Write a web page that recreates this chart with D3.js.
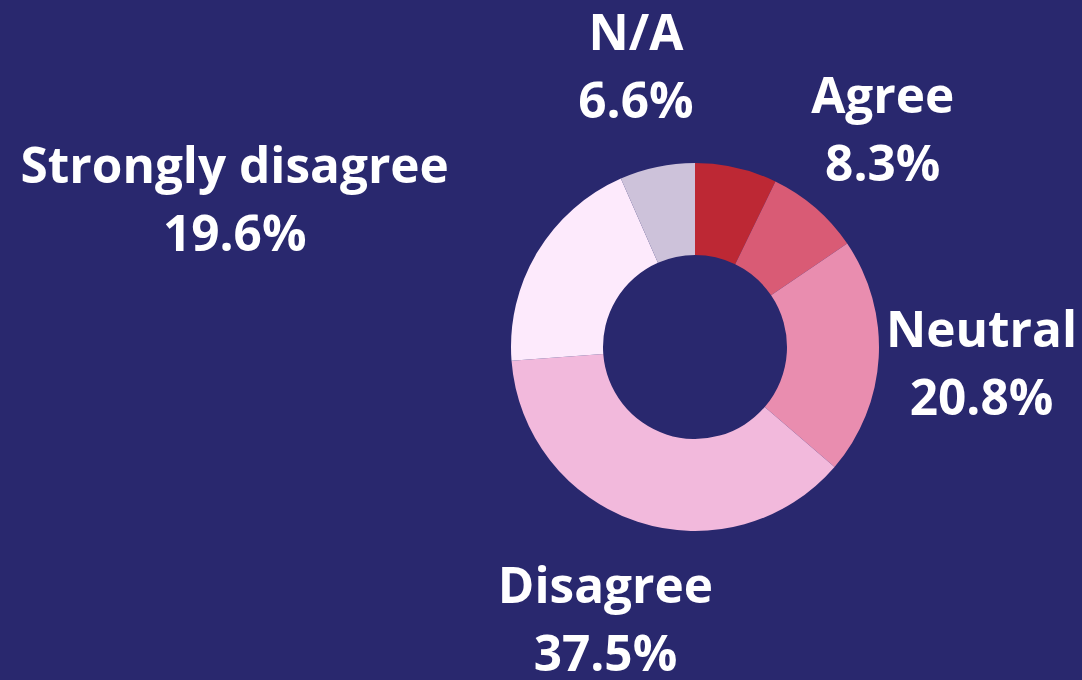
<!DOCTYPE html>
<html>
<head>
<meta charset="utf-8">
<script src="https://cdn.jsdelivr.net/npm/d3@7"></script>
<style>
  html, body { margin: 0; padding: 0; background: #29286e; }
  svg { display: block; }
  text { font-family: "Open Sans", "Noto Sans", sans-serif; font-weight: 700; fill: #ffffff; }
</style>
</head>
<body>
<svg id="chart" width="1082" height="680"></svg>
<script>
// Survey responses, clockwise from 12 o'clock
const categories = ["Strongly agree", "Agree", "Neutral", "Disagree", "Strongly disagree", "N/A"];
const shares = [7.2, 8.3, 20.8, 37.5, 19.6, 6.6];
const colors = ["#bd2834", "#d95b75", "#e98daf", "#f2b9dc", "#fdeafc", "#cdc2da"];
// Only these categories carry a label
const labelled = ["Agree", "Neutral", "Disagree", "Strongly disagree", "N/A"];

const width = 1082, height = 680;
const cx = 695, cy = 347;
const outerR = 184, innerR = 92, labelR = 287;

const data = categories.map((c, i) => ({ name: c, value: shares[i], color: colors[i] }));

const svg = d3.select("#chart");
svg.append("rect").attr("width", width).attr("height", height).attr("fill", "#29286e");

const pie = d3.pie().value(d => d.value).sort(null);
const arc = d3.arc().innerRadius(innerR).outerRadius(outerR);
const arcs = pie(data);

const g = svg.append("g").attr("transform", `translate(${cx},${cy})`);
g.selectAll("path")
  .data(arcs)
  .join("path")
  .attr("d", arc)
  .attr("fill", d => d.data.color);

// Labels sit on a ring outside the donut, on each slice's mid-angle
const fontSize = 49.5;
const capH = 35;
const lineGap = 68;
const labels = svg.append("g");
arcs.filter(d => labelled.includes(d.data.name)).forEach(d => {
  const mid = (d.startAngle + d.endAngle) / 2;
  let x = cx + labelR * Math.sin(mid);
  const y = cy - labelR * Math.cos(mid);
  const top = y - (capH + lineGap) / 2;
  const bottom = y + (capH + lineGap) / 2;
  const t = labels.append("g");
  const l1 = t.append("text").attr("y", top + capH)
    .attr("text-anchor", "middle").attr("font-size", fontSize).text(d.data.name);
  const l2 = t.append("text").attr("y", bottom)
    .attr("text-anchor", "middle").attr("font-size", fontSize)
    .text(d3.format(".1f")(d.data.value) + "%");
  const w = Math.max(l1.node().getComputedTextLength(), l2.node().getComputedTextLength());
  // If the centred block would run into the ring, slide it outward so its
  // inner edge rests on the label point
  const nx = Math.max(x - w / 2, Math.min(cx, x + w / 2));
  const ny = Math.max(top, Math.min(cy, bottom));
  if (Math.hypot(nx - cx, ny - cy) < outerR) {
    x = x < cx ? x - w / 2 : x + w / 2;
  }
  l1.attr("x", x);
  l2.attr("x", x);
});
</script>
</body>
</html>
